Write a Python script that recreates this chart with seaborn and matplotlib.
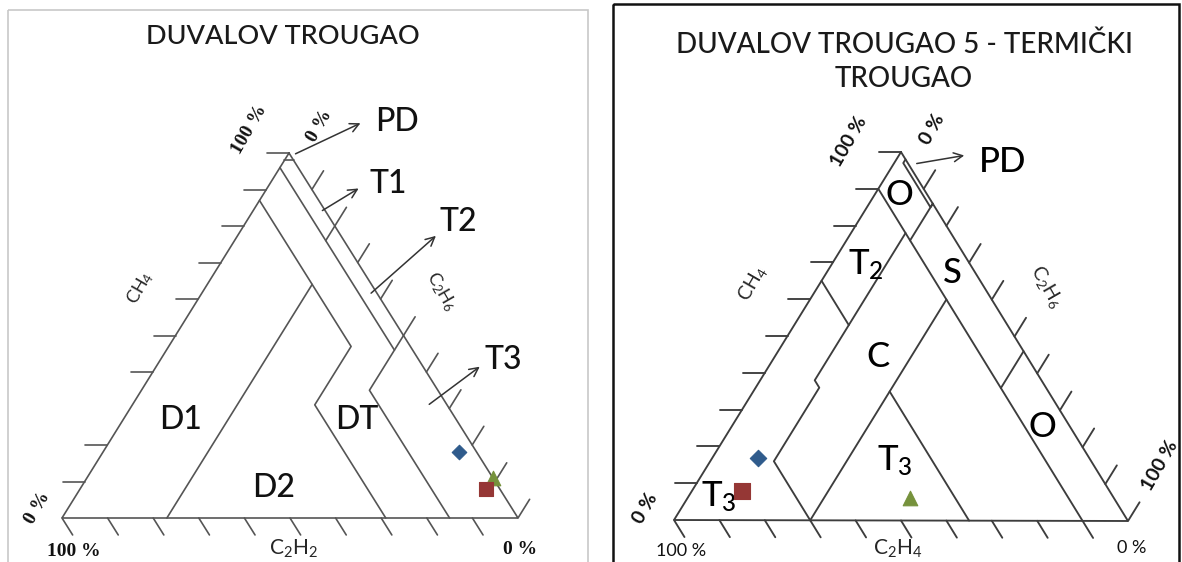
import numpy as np
import pandas as pd
import matplotlib
matplotlib.use("Agg")
import matplotlib.pyplot as plt
import seaborn as sns

# ---------------------- DATA ----------------------

samples = ["Uzorak 1", "Uzorak 2", "Uzorak 3"]
sample_colors = ["#2f5b8c", "#76923c", "#953735"]
sample_markers = ["D", "^", "s"]

# Duval triangle 1: %CH4, %C2H4, %C2H2
t1_ch4 = [18, 11, 8]
t1_c2h4 = [78, 89, 89]
t1_c2h2 = [4, 0, 3]

# Duval triangle 5: %CH4, %C2H6, %C2H4
t5_ch4 = [17, 6, 8]
t5_c2h6 = [10, 49, 11]
t5_c2h4 = [73, 45, 81]

# zone borders, triangle 1 as (CH4, C2H4, C2H2)
t1_borders = [
    [(98, 2, 0), (98, 0, 2)],
    [(80, 20, 0), (76, 20, 4)],
    [(50, 50, 0), (46, 50, 4)],
    [(96, 0, 4), (46, 50, 4), (35, 50, 15), (0, 85, 15)],
    [(87, 0, 13), (47, 40, 13), (31, 40, 29), (0, 71, 29)],
    [(64, 23, 13), (0, 23, 77)],
]

# zone borders, triangle 5 as (CH4, C2H6, C2H4)
t5_borders = [
    [(98, 2, 0), (97, 2, 1), (85, 14, 1), (86, 14, 0)],
    [(86, 14, 0), (76, 14, 10)],
    [(90, 0, 10), (0, 90, 10)],
    [(46, 54, 0), (36, 54, 10)],
    [(78, 12, 10), (38, 12, 50), (36, 14, 50), (16, 14, 70), (0, 30, 70)],
    [(65, 0, 35), (53, 12, 35)],
    [(60, 30, 10), (0, 30, 70)],
    [(35, 30, 35), (0, 65, 35)],
]

t1_left_ticks = [100, 90, 80, 70, 60, 50, 40, 20, 10]
t5_left_ticks = [100, 90, 80, 70, 60, 50, 40, 30, 20, 10]
bottom_ticks = [100, 90, 80, 70, 60, 50, 40, 30, 20, 10]
right_ticks = [10, 20, 30, 40, 50, 60, 70, 80, 90, 100]

# ---------------------- LAYOUT ----------------------

# triangle corners in figure pixels (top, bottom-right, bottom-left)
tri1 = {"top": (289, 153), "br": (518, 518), "bl": (62, 518)}
tri5 = {"top": (901, 152), "br": (1128, 521), "bl": (674, 520)}

LINE1 = "#555555"
LINE5 = "#3d3d3d"


def tern(tri, a, b, c):
    a = np.asarray(a, float) / 100
    b = np.asarray(b, float) / 100
    c = np.asarray(c, float) / 100
    x = a * tri["top"][0] + b * tri["br"][0] + c * tri["bl"][0]
    y = a * tri["top"][1] + b * tri["br"][1] + c * tri["bl"][1]
    return x, y


def unit(p, q):
    v = np.array(q, float) - np.array(p, float)
    return v / np.linalg.norm(v)


def draw_triangle(ax, tri, borders, left_ticks, color, lw):
    xs, ys = tern(tri, [100, 0, 0, 100], [0, 100, 0, 0], [0, 0, 100, 0])
    ax.plot(xs, ys, color=color, lw=lw, solid_joinstyle="miter")
    for seg in borders:
        a, b, c = zip(*seg)
        x, y = tern(tri, a, b, c)
        ax.plot(x, y, color=color, lw=lw)

    tl = 22
    # left side ticks, horizontal
    for v in left_ticks:
        x, y = tern(tri, v, 0, 100 - v)
        ax.plot([x, x - tl], [y, y], color=color, lw=lw)
    # bottom ticks, parallel to right edge
    d = unit(tri["top"], tri["br"]) * 20
    for v in bottom_ticks:
        x, y = tern(tri, 0, 100 - v, v)
        ax.plot([x, x + d[0]], [y, y + d[1]], color=color, lw=lw)
    # right side ticks, parallel to left edge
    d = unit(tri["bl"], tri["top"]) * 22
    for v in right_ticks:
        x, y = tern(tri, 100 - v, v, 0)
        ax.plot([x, x + d[0]], [y, y + d[1]], color=color, lw=lw)


def draw_points(ax, tri, a, b, c, sizes):
    x, y = tern(tri, a, b, c)
    df = pd.DataFrame({"x": x, "y": y, "sample": samples})
    for i, row in df.iterrows():
        sns.scatterplot(x=[row["x"]], y=[row["y"]], ax=ax, marker=sample_markers[i],
                        color=sample_colors[i], s=sizes[i], edgecolor=sample_colors[i],
                        linewidth=0.8, zorder=5, legend=False)


sns.set_theme(style="white")
plt.rcParams["font.family"] = ["Lato", "DejaVu Sans"]
plt.rcParams["mathtext.fontset"] = "custom"
plt.rcParams["mathtext.rm"] = "Lato"

fig = plt.figure(figsize=(11.82, 5.62), dpi=100)
ax = fig.add_axes([0, 0, 1, 1])
ax.set_xlim(0, 1182)
ax.set_ylim(562, 0)
ax.axis("off")

# panel frames
ax.add_patch(plt.Rectangle((7.5, 10), 580.5, 560, fill=False, ec="#c8c8c8", lw=1.2))
ax.add_patch(plt.Rectangle((612.5, 4), 566.5, 566, fill=False, ec="#111111", lw=1.8))

# ---------------------- LEFT: DUVAL 1 ----------------------

draw_triangle(ax, tri1, t1_borders, t1_left_ticks, LINE1, 1.2)
draw_points(ax, tri1, t1_ch4, t1_c2h4, t1_c2h2, [55, 110, 100])

ax.text(283, 37, "DUVALOV TROUGAO", ha="center", va="center", fontsize=19.5,
        fontweight="medium", color="#1a1a1a")

big = dict(ha="center", va="center", fontsize=23, fontweight="medium", color="#111111")
for txt, x, y in [("PD", 397, 122), ("T1", 388, 184), ("T2", 458, 222), ("T3", 503, 360),
                  ("D1", 181, 420), ("D2", 274, 488), ("DT", 357, 420)]:
    ax.text(x, y, txt, **big)

arrow = dict(arrowstyle="->", color="#333333", lw=1.1, mutation_scale=16)
for tail, head in [((293, 155), (363, 122)), ((320, 212), (361, 187)),
                   ((369, 295), (438, 234)), ((427, 406), (482, 365))]:
    ax.annotate("", xy=head, xytext=tail, arrowprops=arrow)

pct1 = dict(ha="center", va="center", fontsize=14, fontweight="bold",
            family=["Liberation Serif", "DejaVu Serif"], color="#111111")
ax.text(250, 130, "100 %", rotation=60, **pct1)
ax.text(320, 126, "0 %", rotation=60, **pct1)
ax.text(38, 508, "0 %", rotation=60, **pct1)
ax.text(74, 551, "100 %", **pct1)
ax.text(520, 550, "0 %", **pct1)

ax.text(140, 288, r"$\mathregular{CH_4}$", rotation=60, ha="center", va="center", fontsize=13)
ax.text(441, 292, r"$\mathregular{C_2H_6}$", rotation=-60, ha="center", va="center", fontsize=13)
ax.text(293, 549, r"$\mathregular{C_2H_2}$", ha="center", va="center", fontsize=15)

# ---------------------- RIGHT: DUVAL 5 ----------------------

draw_triangle(ax, tri5, t5_borders, t5_left_ticks, LINE5, 1.35)
draw_points(ax, tri5, t5_ch4, t5_c2h6, t5_c2h4, [70, 110, 120])

ax.text(904, 62, "DUVALOV TROUGAO 5 - TERMIČKI\nTROUGAO", ha="center", va="center",
        fontsize=20, fontweight="medium", linespacing=1.4, color="#1a1a1a")

big5 = dict(ha="center", va="center", fontsize=25, fontweight="medium", color="#000000")
for txt, x, y in [("PD", 1003, 162), ("O", 899, 195), (r"$\mathregular{T_2}$", 866, 265),
                  ("S", 952, 273), ("C", 878, 357), ("O", 1042, 427),
                  (r"$\mathregular{T_3}$", 895, 461), (r"$\mathregular{T_3}$", 719, 497)]:
    ax.text(x, y, txt, **big5)

ax.annotate("", xy=(967, 155), xytext=(914, 164), arrowprops=arrow)

pct5 = dict(ha="center", va="center", fontsize=14, fontweight="bold", color="#111111")
ax.text(849, 142, "100 %", rotation=60, **pct5)
ax.text(932, 129, "0 %", rotation=60, **pct5)
ax.text(645, 508, "0 %", rotation=60, **pct5)
ax.text(1160, 466, "100 %", rotation=60, **pct5)
ax.text(681, 551, "100 %", ha="center", va="center", fontsize=13, color="#111111")
ax.text(1132, 548, "0 %", ha="center", va="center", fontsize=13, color="#111111")

ax.text(752, 283, r"$\mathregular{CH_4}$", rotation=60, ha="center", va="center", fontsize=14)
ax.text(1047, 287, r"$\mathregular{C_2H_6}$", rotation=-60, ha="center", va="center", fontsize=14)
ax.text(898, 549, r"$\mathregular{C_2H_4}$", ha="center", va="center", fontsize=15)

fig.savefig("out.png", dpi=100)
